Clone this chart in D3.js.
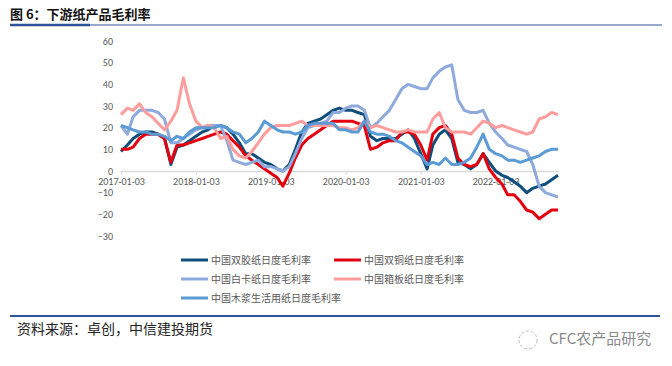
<!DOCTYPE html>
<html>
<head>
<meta charset="utf-8">
<script src="https://cdn.jsdelivr.net/npm/d3@7"></script>
<style>
body { margin: 0; background: #fff; }
text { font-family: "Noto Sans CJK SC", "Noto Sans", sans-serif; }
</style>
</head>
<body>
<div id="chart-area"></div>
<script>
/*
*    下游纸产品毛利率
*/

// monthly points, starting 2017-01-03
var startDate = "2017-01-03";
var endDate = "2022-11-03";
var tickLabels = ["2017-01-03", "2018-01-03", "2019-01-03", "2020-01-03", "2021-01-03", "2022-01-03"];
var yTicks = [-30, -20, -10, 0, 10, 20, 30, 40, 50, 60];

var seriesNames = ["中国双胶纸日度毛利率", "中国双铜纸日度毛利率", "中国白卡纸日度毛利率", "中国箱板纸日度毛利率", "中国木浆生活用纸日度毛利率"];
var seriesColors = ["#0f4e7a", "#e3000f", "#8eaadc", "#ff9d9d", "#5b9bd5"];

var shuangjiao = [9, 12, 15, 17, 18, 18, 17, 15, 3, 11, 12, 14, 16, 18, 19, 21, 21, 20, 17, 13,
    8, 8, 6, 4, 3, 1, 0, 3, 10, 18, 22, 23, 24, 26, 28, 29, 28, 28, 27, 26,
    16, 14, 15, 15, 15, 17, 19, 15, 8, 1, 12, 17, 19, 15, 4, 3, 1, 3, 8, 4,
    0, -2, -3, -5, -7, -10, -8, -7, -6, -4, -2];
var shuangtong = [10, 10, 11, 15, 17, 17, 17, 15, 4, 12, 12, 13, 14, 15, 16, 17, 18, 17, 14, 11,
    7, 5, 3, 1, -1, -3, -7, -1, 6, 12, 15, 17, 19, 21, 23, 23, 23, 23, 22, 21,
    10, 11, 13, 14, 14, 18, 18, 17, 12, 5, 17, 20, 21, 17, 6, 3, 2, 3, 8, 1,
    -3, -6, -11, -11, -14, -18, -19, -22, -20, -18, -18];
var baika = [21, 17, 25, 28, 28, 28, 27, 24, 13, 13, 15, 17, 19, 20, 21, 21, 21, 14, 5, 4,
    3, 4, 5, 2, 2, 1, 0, 2, 8, 15, 20, 21, 22, 23, 27, 27, 29, 30, 30, 28,
    20, 22, 25, 28, 33, 38, 40, 39, 38, 38, 43, 46, 48, 49, 33, 28, 27, 27, 28, 22,
    18, 15, 12, 11, 10, 9, 3, -7, -10, -11, -12];
var xiangban = [26, 29, 28, 31, 27, 25, 22, 19, 23, 28, 43, 31, 23, 20, 21, 20, 15, 16, 10, 7,
    6, 9, 13, 17, 20, 21, 21, 21, 22, 23, 21, 21, 21, 21, 21, 20, 20, 19, 20, 23,
    20, 21, 20, 19, 18, 18, 19, 18, 18, 18, 24, 27, 20, 18, 18, 18, 17, 20, 23, 22,
    20, 21, 20, 19, 18, 17, 18, 24, 25, 27, 26];
var mujiang = [21, 20, 19, 18, 18, 17, 17, 16, 14, 16, 15, 18, 20, 20, 20, 20, 21, 20, 18, 17,
    13, 15, 18, 23, 21, 19, 18, 18, 17, 18, 21, 22, 22, 22, 22, 19, 19, 18, 18, 23,
    18, 17, 17, 16, 14, 13, 11, 9, 7, 3, 4, 3, 6, 3, 3, 4, 6, 11, 17, 10,
    8, 7, 5, 5, 4, 5, 6, 7, 9, 10, 10];

var allSeries = [shuangjiao, shuangtong, baika, xiangban, mujiang];

var parseDate = d3.timeParse("%Y-%m-%d");
var start = parseDate(startDate);
var dates = shuangjiao.map((d, i) => d3.timeMonth.offset(start, i));

var svg = d3.select("#chart-area").append("svg")
    .attr("width", 672)
    .attr("height", 366);

// title
svg.append("text")
    .attr("x", 10)
    .attr("y", 19)
    .attr("font-size", 13)
    .attr("font-weight", "bold")
    .attr("fill", "#111")
    .text("图 6：下游纸产品毛利率");

svg.append("line")
    .attr("x1", 10).attr("x2", 662)
    .attr("y1", 25).attr("y2", 25)
    .attr("stroke", "#2f5496")
    .attr("stroke-width", 1);
svg.append("line")
    .attr("x1", 10).attr("x2", 90)
    .attr("y1", 25).attr("y2", 25)
    .attr("stroke", "#2f5496")
    .attr("stroke-width", 2.5);

var x = d3.scaleTime()
    .domain([start, parseDate(endDate)])
    .range([121, 558]);

var y = d3.scaleLinear()
    .domain([-30, 60])
    .range([236, 41]);

// y labels (no axis line)
var yAxis = d3.axisLeft(y)
    .tickValues(yTicks)
    .tickSize(0)
    .tickPadding(0);
var gy = svg.append("g")
    .attr("transform", "translate(113,0)")
    .call(yAxis);
gy.select(".domain").remove();
gy.selectAll("text")
    .attr("font-size", 10)
    .attr("fill", "#595959")
    .style("font-family", "Calibri, Carlito, 'Liberation Sans', sans-serif");

// x axis on zero line
var xAxis = d3.axisBottom(x)
    .tickValues(tickLabels.map(parseDate))
    .tickFormat(d3.timeFormat("%Y-%m-%d"))
    .tickSizeInner(4)
    .tickSizeOuter(0)
    .tickPadding(3);
var gx = svg.append("g")
    .attr("transform", "translate(0," + y(0) + ")")
    .call(xAxis);
gx.select(".domain")
    .attr("stroke", "#d9d9d9")
    .attr("stroke-width", 1.5);
gx.selectAll(".tick line")
    .attr("stroke", "#d9d9d9");
gx.selectAll("text")
    .attr("font-size", 10)
    .attr("fill", "#595959")
    .style("font-family", "Calibri, Carlito, 'Liberation Sans', sans-serif");

// lines
var line = d3.line()
    .x((d, i) => x(dates[i]))
    .y((d) => y(d));

allSeries.forEach((s, k) => {
    svg.append("path")
        .datum(s)
        .attr("d", line)
        .attr("fill", "none")
        .attr("stroke", seriesColors[k])
        .attr("stroke-width", 3)
        .attr("stroke-linejoin", "round");
});

// legend
var legX = [181, 334];
var legY = [260, 279, 298];
seriesNames.forEach((name, k) => {
    var lx = legX[k % 2];
    var ly = legY[Math.floor(k / 2)];
    svg.append("line")
        .attr("x1", lx).attr("x2", lx + 27)
        .attr("y1", ly).attr("y2", ly)
        .attr("stroke", seriesColors[k])
        .attr("stroke-width", 3);
    svg.append("text")
        .attr("x", lx + 30)
        .attr("y", ly + 3.5)
        .attr("font-size", 10)
        .attr("fill", "#595959")
        .text(name);
});

// footer
svg.append("line")
    .attr("x1", 10).attr("x2", 660)
    .attr("y1", 316).attr("y2", 316)
    .attr("stroke", "#2f5496")
    .attr("stroke-width", 2);

svg.append("text")
    .attr("x", 17)
    .attr("y", 334)
    .attr("font-size", 14)
    .attr("fill", "#222")
    .text("资料来源：卓创，中信建投期货");

svg.append("circle")
    .attr("cx", 528).attr("cy", 340)
    .attr("r", 9)
    .attr("fill", "none")
    .attr("stroke", "#bbb")
    .attr("stroke-width", 1)
    .attr("stroke-dasharray", "3,2");
svg.append("text")
    .attr("x", 549)
    .attr("y", 344)
    .attr("font-size", 15)
    .attr("fill", "#8a8a8a")
    .text("CFC农产品研究");
</script>
</body>
</html>
